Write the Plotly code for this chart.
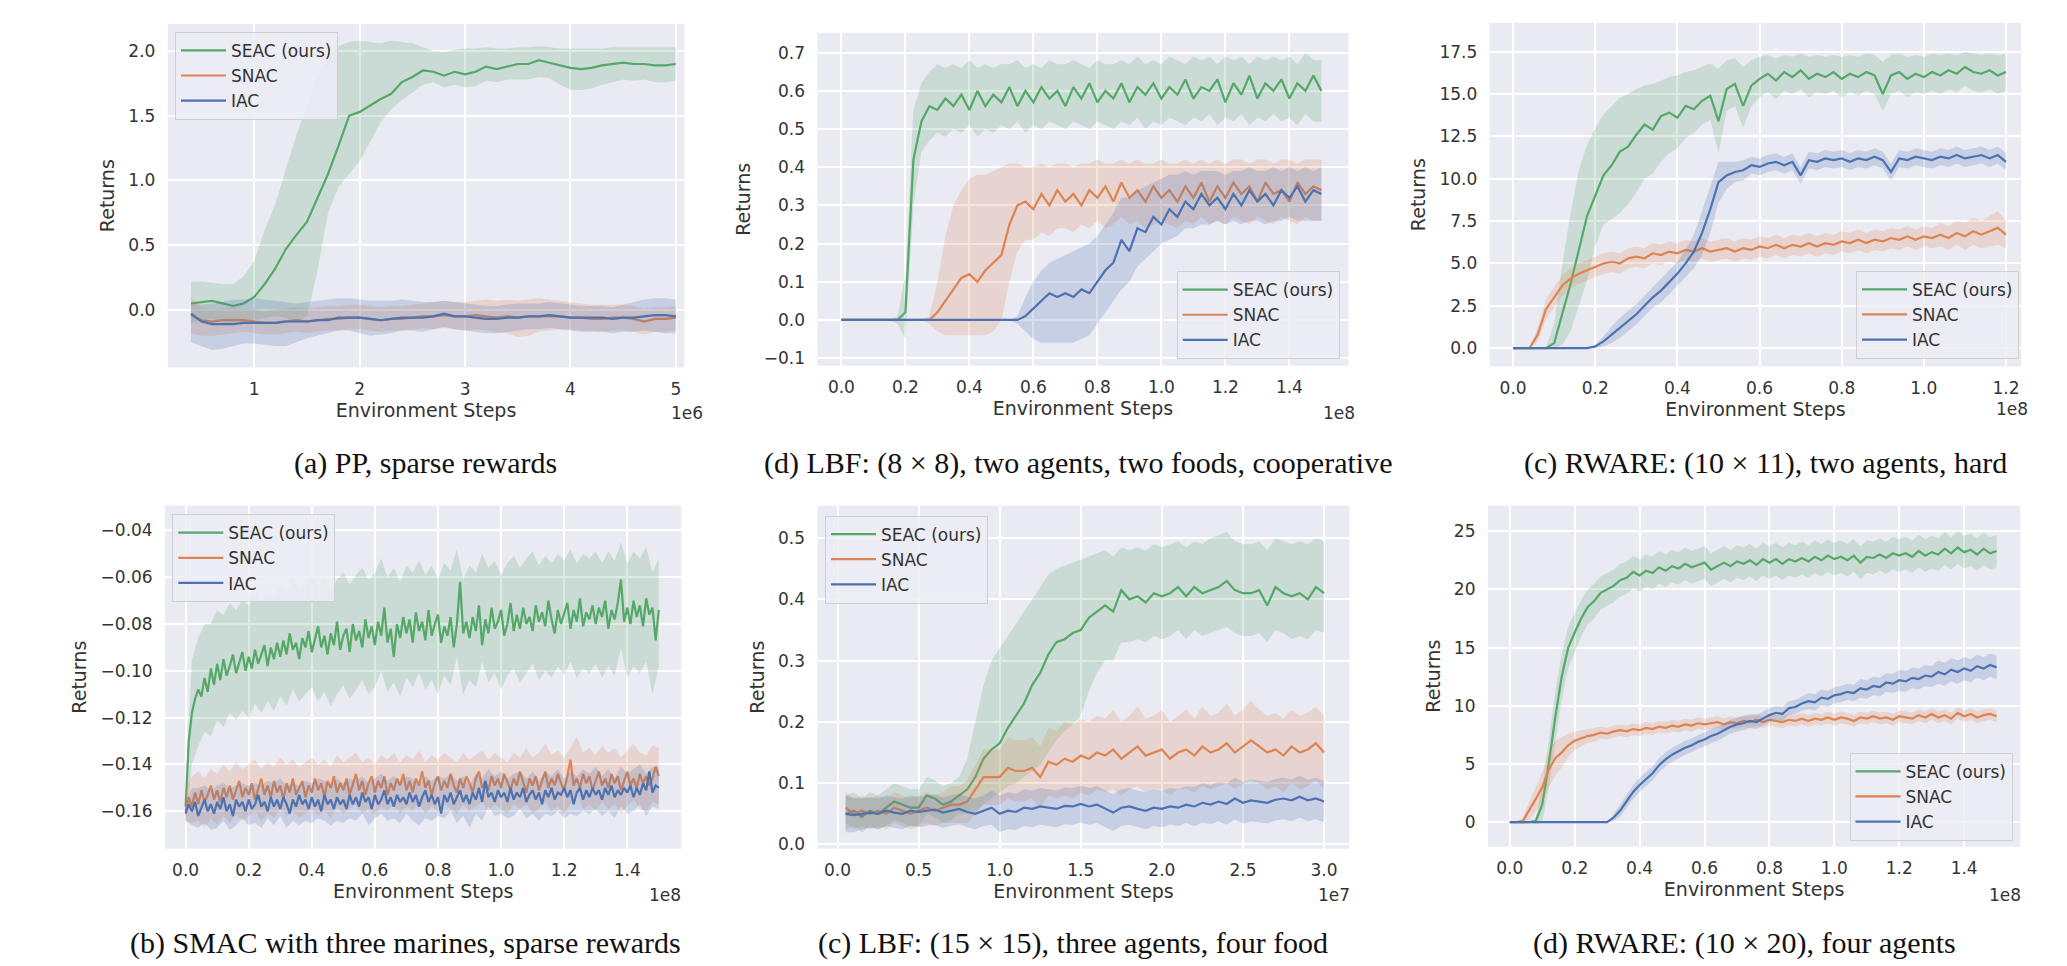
import plotly.graph_objects as go

W, H = 2067, 966
GREEN, ORANGE, BLUE = "#55a868", "#dd8452", "#4c72b0"
FILLS = {GREEN: "rgba(85,168,104,0.22)", ORANGE: "rgba(221,132,82,0.22)", BLUE: "rgba(76,114,176,0.22)"}
NAMES = ["SEAC (ours)", "SNAC", "IAC"]

# ---------------- (a) PP, sparse rewards  (x in 1e6) ----------------
XA = [0.4,0.5,0.6,0.7,0.8,0.9,1.0,1.1,1.2,1.3,
      1.4,1.5,1.6,1.7,1.8,1.9,2.0,2.1,2.2,2.3,
      2.4,2.5,2.6,2.7,2.8,2.9,3.0,3.1,3.2,3.3,
      3.4,3.5,3.6,3.7,3.8,3.9,4.0,4.1,4.2,4.3,
      4.4,4.5,4.6,4.7,4.8,4.9,5.0]
SEAC_A = [0.05,0.06,0.07,0.05,0.03,0.05,0.10,0.20,0.32,0.47,
          0.58,0.68,0.86,1.05,1.27,1.50,1.53,1.58,1.63,1.67,
          1.76,1.80,1.85,1.84,1.81,1.84,1.82,1.84,1.88,1.86,
          1.88,1.90,1.90,1.93,1.91,1.89,1.87,1.86,1.87,1.89,
          1.90,1.91,1.90,1.90,1.89,1.89,1.90]
SEAC_A_HI = [0.22,0.22,0.21,0.20,0.20,0.26,0.38,0.62,0.82,1.08,
             1.35,1.58,1.80,1.95,2.04,2.07,2.08,2.07,2.06,2.08,
             2.07,2.06,2.03,2.00,1.99,2.01,2.02,2.02,2.03,2.02,
             2.02,2.03,2.03,2.04,2.03,2.02,2.02,2.02,2.02,2.02,
             2.03,2.03,2.03,2.03,2.03,2.03,2.03]
SEAC_A_LO = [-0.10,-0.08,-0.07,-0.10,-0.12,-0.10,-0.08,-0.06,-0.05,-0.06,
             -0.10,-0.05,0.30,0.75,0.95,1.05,1.15,1.30,1.45,1.55,
             1.62,1.68,1.74,1.76,1.72,1.74,1.72,1.73,1.77,1.76,
             1.78,1.78,1.78,1.80,1.79,1.74,1.70,1.70,1.71,1.74,
             1.76,1.78,1.77,1.78,1.76,1.76,1.77]
SNAC_A = [-0.04,-0.08,-0.09,-0.08,-0.08,-0.08,-0.09,-0.10,-0.10,-0.09,
          -0.08,-0.09,-0.08,-0.07,-0.07,-0.06,-0.06,-0.07,-0.08,-0.07,
          -0.07,-0.06,-0.05,-0.05,-0.04,-0.05,-0.05,-0.04,-0.05,-0.06,
          -0.05,-0.06,-0.05,-0.05,-0.05,-0.05,-0.06,-0.06,-0.07,-0.07,
          -0.06,-0.06,-0.07,-0.09,-0.07,-0.07,-0.06]
SNAC_A_HI = [0.10,0.02,0.00,0.01,0.02,0.01,0.00,-0.01,0.00,0.01,
             0.02,0.01,0.02,0.03,0.03,0.04,0.04,0.03,0.02,0.03,
             0.03,0.04,0.05,0.06,0.07,0.06,0.06,0.07,0.08,0.07,
             0.08,0.07,0.08,0.09,0.08,0.07,0.06,0.05,0.04,0.04,
             0.04,0.04,0.03,0.01,0.02,0.02,0.03]
SNAC_A_LO = [-0.18,-0.20,-0.20,-0.19,-0.18,-0.17,-0.18,-0.19,-0.19,-0.18,
             -0.17,-0.18,-0.17,-0.16,-0.16,-0.15,-0.15,-0.16,-0.17,-0.16,
             -0.16,-0.15,-0.14,-0.15,-0.14,-0.15,-0.16,-0.15,-0.16,-0.17,
             -0.18,-0.21,-0.20,-0.17,-0.16,-0.15,-0.15,-0.16,-0.16,-0.17,
             -0.16,-0.16,-0.17,-0.19,-0.17,-0.17,-0.16]
IAC_A = [-0.03,-0.09,-0.11,-0.11,-0.11,-0.10,-0.10,-0.10,-0.10,-0.09,
         -0.09,-0.09,-0.08,-0.08,-0.06,-0.06,-0.06,-0.07,-0.08,-0.07,
         -0.06,-0.06,-0.06,-0.05,-0.03,-0.05,-0.05,-0.06,-0.07,-0.07,
         -0.06,-0.06,-0.05,-0.05,-0.04,-0.05,-0.06,-0.06,-0.06,-0.06,
         -0.07,-0.06,-0.06,-0.05,-0.04,-0.04,-0.05]
IAC_A_HI = [0.05,0.04,0.05,0.06,0.08,0.08,0.09,0.08,0.07,0.06,
            0.05,0.06,0.07,0.08,0.09,0.09,0.08,0.07,0.07,0.07,
            0.08,0.07,0.06,0.06,0.07,0.06,0.05,0.04,0.03,0.03,
            0.04,0.05,0.05,0.05,0.06,0.05,0.04,0.03,0.03,0.03,
            0.02,0.04,0.06,0.08,0.09,0.09,0.08]
IAC_A_LO = [-0.25,-0.28,-0.31,-0.30,-0.28,-0.26,-0.26,-0.27,-0.28,-0.28,
            -0.25,-0.22,-0.20,-0.18,-0.16,-0.16,-0.18,-0.20,-0.19,-0.18,
            -0.16,-0.16,-0.17,-0.15,-0.13,-0.15,-0.16,-0.17,-0.18,-0.18,
            -0.17,-0.16,-0.15,-0.15,-0.14,-0.15,-0.16,-0.17,-0.17,-0.17,
            -0.18,-0.17,-0.17,-0.16,-0.17,-0.18,-0.18]

# ---------------- (d) LBF 8x8  (x in 1e8) ----------------
XD1 = [0.000,0.025,0.050,0.075,0.100,0.125,0.150,0.175,0.200,0.225,
       0.250,0.275,0.300,0.325,0.350,0.375,0.400,0.425,0.450,0.475,
       0.500,0.525,0.550,0.575,0.600,0.625,0.650,0.675,0.700,0.725,
       0.750,0.775,0.800,0.825,0.850,0.875,0.900,0.925,0.950,0.975,
       1.000,1.025,1.050,1.075,1.100,1.125,1.150,1.175,1.200,1.225,
       1.250,1.275,1.300,1.325,1.350,1.375,1.400,1.425,1.450,1.475,
       1.500]
SEAC_D1 = [0.00,0.00,0.00,0.00,0.00,0.00,0.00,0.00,0.02,0.42,
           0.52,0.56,0.55,0.58,0.56,0.59,0.55,0.60,0.56,0.59,
           0.57,0.61,0.56,0.60,0.57,0.61,0.58,0.60,0.56,0.61,
           0.58,0.62,0.57,0.60,0.58,0.62,0.57,0.61,0.59,0.62,
           0.58,0.61,0.59,0.63,0.58,0.61,0.60,0.63,0.57,0.62,
           0.59,0.64,0.58,0.62,0.60,0.63,0.58,0.62,0.60,0.64,
           0.60]
SEAC_D1_HI = [0.00,0.00,0.00,0.00,0.00,0.00,0.00,0.01,0.12,0.55,
              0.62,0.65,0.67,0.66,0.67,0.66,0.68,0.66,0.67,0.66,
              0.67,0.67,0.68,0.66,0.67,0.66,0.68,0.67,0.67,0.68,
              0.67,0.66,0.68,0.67,0.67,0.68,0.67,0.69,0.67,0.68,
              0.67,0.69,0.68,0.67,0.69,0.68,0.69,0.67,0.69,0.68,
              0.69,0.67,0.69,0.68,0.69,0.68,0.69,0.67,0.70,0.68,
              0.68]
SEAC_D1_LO = [0.00,0.00,0.00,0.00,0.00,0.00,0.00,-0.01,-0.05,0.30,
              0.44,0.47,0.49,0.48,0.50,0.49,0.51,0.48,0.50,0.49,
              0.51,0.50,0.52,0.49,0.51,0.50,0.52,0.51,0.50,0.52,
              0.51,0.50,0.52,0.51,0.50,0.52,0.51,0.53,0.50,0.52,
              0.51,0.53,0.52,0.51,0.53,0.52,0.54,0.51,0.53,0.52,
              0.54,0.51,0.53,0.52,0.54,0.52,0.53,0.51,0.54,0.52,
              0.52]
SNAC_D1 = [0.00,0.00,0.00,0.00,0.00,0.00,0.00,0.00,0.00,0.00,
           0.00,0.00,0.02,0.05,0.08,0.11,0.12,0.10,0.13,0.15,
           0.17,0.25,0.30,0.31,0.29,0.33,0.30,0.34,0.31,0.33,
           0.30,0.34,0.32,0.35,0.31,0.36,0.32,0.34,0.31,0.35,
           0.32,0.34,0.31,0.35,0.32,0.36,0.31,0.35,0.32,0.36,
           0.33,0.35,0.31,0.36,0.33,0.34,0.31,0.36,0.33,0.35,
           0.34]
SNAC_D1_HI = [0.00,0.00,0.00,0.00,0.00,0.00,0.00,0.00,0.00,0.00,
              0.00,0.01,0.10,0.22,0.30,0.34,0.37,0.38,0.38,0.39,
              0.40,0.41,0.41,0.40,0.40,0.41,0.40,0.41,0.41,0.40,
              0.41,0.41,0.42,0.41,0.41,0.42,0.41,0.42,0.41,0.41,
              0.42,0.41,0.41,0.42,0.41,0.42,0.41,0.42,0.41,0.42,
              0.42,0.41,0.42,0.42,0.41,0.42,0.42,0.41,0.42,0.42,
              0.42]
SNAC_D1_LO = [0.00,0.00,0.00,0.00,0.00,0.00,0.00,0.00,0.00,0.00,
              0.00,-0.01,-0.03,-0.04,-0.04,-0.04,-0.04,-0.04,-0.04,-0.03,
              0.00,0.10,0.18,0.21,0.21,0.23,0.22,0.24,0.24,0.23,
              0.25,0.24,0.26,0.24,0.25,0.27,0.25,0.26,0.24,0.25,
              0.26,0.25,0.24,0.26,0.25,0.27,0.25,0.26,0.25,0.27,
              0.26,0.25,0.27,0.26,0.25,0.27,0.26,0.25,0.27,0.26,
              0.26]
IAC_D1 = [0.00,0.00,0.00,0.00,0.00,0.00,0.00,0.00,0.00,0.00,
          0.00,0.00,0.00,0.00,0.00,0.00,0.00,0.00,0.00,0.00,
          0.00,0.00,0.00,0.01,0.03,0.05,0.07,0.06,0.07,0.06,
          0.08,0.07,0.10,0.13,0.15,0.21,0.18,0.24,0.23,0.27,
          0.25,0.29,0.27,0.31,0.29,0.33,0.30,0.32,0.29,0.33,
          0.30,0.34,0.31,0.33,0.30,0.34,0.32,0.35,0.31,0.34,
          0.33]
IAC_D1_HI = [0.00,0.00,0.00,0.00,0.00,0.00,0.00,0.00,0.00,0.00,
             0.00,0.00,0.00,0.00,0.00,0.00,0.00,0.00,0.00,0.00,
             0.00,0.00,0.01,0.06,0.10,0.13,0.15,0.16,0.17,0.18,
             0.19,0.20,0.22,0.25,0.28,0.32,0.32,0.34,0.35,0.36,
             0.37,0.38,0.38,0.39,0.38,0.39,0.39,0.39,0.38,0.39,
             0.39,0.40,0.39,0.39,0.40,0.39,0.40,0.39,0.40,0.39,
             0.40]
IAC_D1_LO = [0.00,0.00,0.00,0.00,0.00,0.00,0.00,0.00,0.00,0.00,
             0.00,0.00,0.00,0.00,0.00,0.00,0.00,0.00,0.00,0.00,
             0.00,0.00,-0.01,-0.03,-0.05,-0.06,-0.06,-0.06,-0.06,-0.06,
             -0.05,-0.04,-0.01,0.02,0.05,0.08,0.10,0.14,0.16,0.18,
             0.20,0.21,0.22,0.24,0.24,0.25,0.25,0.26,0.25,0.26,
             0.25,0.26,0.26,0.25,0.26,0.26,0.27,0.26,0.26,0.26,
             0.26]

# ---------------- (c) RWARE 10x11, hard  (x in 1e8) ----------------
XC1 = [0.00,0.02,0.04,0.06,0.08,0.10,0.12,0.14,0.16,0.18,
       0.20,0.22,0.24,0.26,0.28,0.30,0.32,0.34,0.36,0.38,
       0.40,0.42,0.44,0.46,0.48,0.50,0.52,0.54,0.56,0.58,
       0.60,0.62,0.64,0.66,0.68,0.70,0.72,0.74,0.76,0.78,
       0.80,0.82,0.84,0.86,0.88,0.90,0.92,0.94,0.96,0.98,
       1.00,1.02,1.04,1.06,1.08,1.10,1.12,1.14,1.16,1.18,
       1.20]
SEAC_C1 = [0.0,0.0,0.0,0.0,0.0,0.3,2.0,3.8,5.8,7.8,
           9.0,10.2,10.8,11.6,11.9,12.6,13.2,12.9,13.7,13.9,
           13.6,14.3,14.1,14.6,14.9,13.4,15.3,15.6,14.3,15.5,
           15.9,16.2,15.8,16.3,16.0,16.4,15.9,16.2,16.0,16.3,
           15.9,16.2,16.0,16.3,16.1,15.0,16.1,16.3,15.9,16.2,
           16.0,16.3,16.1,16.4,16.2,16.6,16.3,16.2,16.4,16.1,
           16.3]
SEAC_C1_HI = [0.0,0.0,0.0,0.0,0.0,1.5,5.0,8.0,10.5,12.0,
              13.0,13.8,14.3,14.8,15.0,15.3,15.5,15.6,15.8,16.0,
              16.1,16.3,16.4,16.6,16.8,16.5,17.0,17.1,16.6,17.0,
              17.2,17.3,17.1,17.3,17.2,17.4,17.2,17.3,17.2,17.3,
              17.2,17.3,17.2,17.4,17.3,16.9,17.3,17.4,17.2,17.3,
              17.2,17.4,17.3,17.4,17.3,17.5,17.4,17.3,17.4,17.3,
              17.4]
SEAC_C1_LO = [0.0,0.0,0.0,0.0,0.0,0.0,0.2,1.0,2.5,4.0,
              6.0,7.3,7.6,8.0,8.5,9.2,10.0,10.3,11.0,11.5,
              11.8,12.4,12.7,13.2,13.5,11.5,14.0,14.3,13.0,14.3,
              14.8,15.1,14.7,15.2,15.0,15.3,14.8,15.1,15.0,15.2,
              14.8,15.1,14.9,15.2,15.0,14.0,15.0,15.2,14.8,15.1,
              15.0,15.2,15.0,15.3,15.1,15.5,15.2,15.1,15.3,15.0,
              15.2]
SNAC_C1 = [0.0,0.0,0.0,0.8,2.3,3.0,3.7,4.1,4.4,4.6,
           4.8,5.0,5.1,5.0,5.3,5.4,5.3,5.6,5.5,5.7,
           5.6,5.8,5.7,5.9,5.7,5.8,5.9,5.7,5.9,5.8,
           6.0,5.9,6.1,5.9,6.1,6.0,6.2,6.0,6.2,6.1,
           6.3,6.2,6.4,6.2,6.4,6.3,6.5,6.4,6.6,6.4,
           6.6,6.5,6.7,6.5,6.8,6.6,6.9,6.7,6.9,7.1,
           6.7]
SNAC_C1_SD = [0.00,0.00,0.00,0.40,0.60,0.60,0.60,0.60,0.60,0.60,
              0.60,0.60,0.60,0.60,0.60,0.60,0.60,0.60,0.60,0.60,
              0.60,0.60,0.60,0.60,0.60,0.60,0.60,0.60,0.60,0.60,
              0.60,0.60,0.60,0.60,0.60,0.60,0.60,0.60,0.60,0.60,
              0.60,0.60,0.60,0.60,0.60,0.60,0.60,0.60,0.60,0.60,
              0.60,0.60,0.70,0.70,0.70,0.80,0.80,0.80,0.90,1.00,
              0.80]
IAC_C1 = [0.0,0.0,0.0,0.0,0.0,0.0,0.0,0.0,0.0,0.0,
          0.1,0.4,0.8,1.2,1.6,2.0,2.5,3.0,3.4,3.9,
          4.4,5.0,5.7,6.8,8.2,9.8,10.2,10.4,10.5,10.8,
          10.7,10.9,11.0,10.8,11.0,10.2,11.1,11.0,11.2,11.1,
          11.2,11.0,11.2,11.1,11.3,11.1,10.4,11.2,11.1,11.3,
          11.2,11.1,11.3,11.2,11.4,11.2,11.3,11.4,11.2,11.4,
          11.0]
IAC_C1_SD = [0.00,0.00,0.00,0.00,0.00,0.00,0.00,0.00,0.00,0.00,
             0.10,0.30,0.50,0.60,0.60,0.60,0.60,0.60,0.70,0.70,
             0.70,0.80,1.00,1.30,1.40,1.20,0.80,0.60,0.60,0.50,
             0.50,0.50,0.50,0.50,0.50,0.50,0.50,0.50,0.50,0.50,
             0.50,0.50,0.50,0.50,0.50,0.50,0.50,0.50,0.50,0.50,
             0.50,0.50,0.50,0.50,0.50,0.50,0.50,0.50,0.50,0.50,
             0.50]

# ---------------- (b) SMAC three marines  (x in 1e8) ----------------
# band sample positions
XB = [0.00,0.02,0.04,0.06,0.08,0.10,0.12,0.14,0.16,0.18,
      0.20,0.22,0.24,0.26,0.28,0.30,0.32,0.34,0.36,0.38,
      0.40,0.42,0.44,0.46,0.48,0.50,0.52,0.54,0.56,0.58,
      0.60,0.62,0.64,0.66,0.68,0.70,0.72,0.74,0.76,0.78,
      0.80,0.82,0.84,0.86,0.88,0.90,0.92,0.94,0.96,0.98,
      1.00,1.02,1.04,1.06,1.08,1.10,1.12,1.14,1.16,1.18,
      1.20,1.22,1.24,1.26,1.28,1.30,1.32,1.34,1.36,1.38,
      1.40,1.42,1.44,1.46,1.48,1.50]
# mean-line sample positions (denser, the curves are very noisy)
XB_LINE = [0.00,0.01,0.02,0.03,0.04,0.05,0.06,0.07,0.08,0.09,
           0.10,0.11,0.12,0.13,0.14,0.15,0.16,0.17,0.18,0.19,
           0.20,0.21,0.22,0.23,0.24,0.25,0.26,0.27,0.28,0.29,
           0.30,0.31,0.32,0.33,0.34,0.35,0.36,0.37,0.38,0.39,
           0.40,0.41,0.42,0.43,0.44,0.45,0.46,0.47,0.48,0.49,
           0.50,0.51,0.52,0.53,0.54,0.55,0.56,0.57,0.58,0.59,
           0.60,0.61,0.62,0.63,0.64,0.65,0.66,0.67,0.68,0.69,
           0.70,0.71,0.72,0.73,0.74,0.75,0.76,0.77,0.78,0.79,
           0.80,0.81,0.82,0.83,0.84,0.85,0.86,0.87,0.88,0.89,
           0.90,0.91,0.92,0.93,0.94,0.95,0.96,0.97,0.98,0.99,
           1.00,1.01,1.02,1.03,1.04,1.05,1.06,1.07,1.08,1.09,
           1.10,1.11,1.12,1.13,1.14,1.15,1.16,1.17,1.18,1.19,
           1.20,1.21,1.22,1.23,1.24,1.25,1.26,1.27,1.28,1.29,
           1.30,1.31,1.32,1.33,1.34,1.35,1.36,1.37,1.38,1.39,
           1.40,1.41,1.42,1.43,1.44,1.45,1.46,1.47,1.48,1.49,
           1.50]
SEAC_B = [-0.158,-0.130,-0.118,-0.112,-0.108,-0.111,-0.103,-0.109,-0.099,-0.106,
          -0.097,-0.104,-0.095,-0.102,-0.098,-0.093,-0.101,-0.096,-0.092,-0.100,
          -0.094,-0.099,-0.091,-0.097,-0.093,-0.089,-0.098,-0.090,-0.095,-0.088,
          -0.094,-0.087,-0.093,-0.084,-0.091,-0.088,-0.095,-0.086,-0.090,-0.083,
          -0.092,-0.086,-0.081,-0.090,-0.085,-0.093,-0.084,-0.089,-0.079,-0.091,
          -0.085,-0.082,-0.092,-0.080,-0.087,-0.083,-0.090,-0.078,-0.086,-0.081,
          -0.089,-0.079,-0.085,-0.073,-0.088,-0.082,-0.094,-0.080,-0.086,-0.077,
          -0.084,-0.078,-0.088,-0.075,-0.083,-0.079,-0.087,-0.074,-0.085,-0.080,
          -0.076,-0.088,-0.081,-0.085,-0.077,-0.090,-0.080,-0.062,-0.084,-0.079,
          -0.086,-0.077,-0.083,-0.072,-0.089,-0.078,-0.084,-0.073,-0.082,-0.079,
          -0.074,-0.085,-0.080,-0.071,-0.083,-0.076,-0.082,-0.073,-0.080,-0.077,
          -0.083,-0.072,-0.079,-0.075,-0.081,-0.070,-0.078,-0.084,-0.074,-0.080,
          -0.076,-0.071,-0.082,-0.074,-0.079,-0.069,-0.081,-0.075,-0.078,-0.072,
          -0.080,-0.073,-0.077,-0.070,-0.082,-0.074,-0.078,-0.071,-0.061,-0.079,
          -0.073,-0.080,-0.070,-0.077,-0.072,-0.081,-0.069,-0.076,-0.073,-0.087,
          -0.074]
SEAC_B_HI = [-0.150,-0.095,-0.086,-0.080,-0.080,-0.074,-0.076,-0.071,-0.074,-0.070,
             -0.072,-0.067,-0.070,-0.066,-0.069,-0.064,-0.067,-0.061,-0.065,-0.062,
             -0.060,-0.064,-0.060,-0.066,-0.061,-0.058,-0.063,-0.059,-0.056,-0.061,
             -0.058,-0.052,-0.060,-0.056,-0.062,-0.055,-0.058,-0.053,-0.059,-0.055,
             -0.061,-0.054,-0.057,-0.048,-0.061,-0.055,-0.058,-0.050,-0.056,-0.053,
             -0.059,-0.054,-0.051,-0.056,-0.052,-0.049,-0.055,-0.051,-0.054,-0.050,
             -0.053,-0.048,-0.054,-0.050,-0.052,-0.049,-0.054,-0.049,-0.053,-0.045,
             -0.054,-0.049,-0.052,-0.047,-0.058,-0.052]
SEAC_B_LO = [-0.166,-0.140,-0.132,-0.126,-0.128,-0.121,-0.124,-0.118,-0.121,-0.117,
             -0.120,-0.114,-0.118,-0.113,-0.117,-0.111,-0.115,-0.108,-0.113,-0.110,
             -0.107,-0.113,-0.109,-0.115,-0.110,-0.106,-0.112,-0.108,-0.104,-0.110,
             -0.107,-0.100,-0.109,-0.105,-0.111,-0.103,-0.107,-0.101,-0.108,-0.104,
             -0.110,-0.102,-0.106,-0.094,-0.110,-0.104,-0.107,-0.096,-0.105,-0.101,
             -0.108,-0.102,-0.099,-0.105,-0.101,-0.097,-0.104,-0.100,-0.103,-0.098,
             -0.102,-0.096,-0.103,-0.099,-0.101,-0.097,-0.103,-0.098,-0.102,-0.090,
             -0.103,-0.098,-0.101,-0.096,-0.110,-0.098]
SNAC_B = [-0.160,-0.154,-0.158,-0.152,-0.157,-0.151,-0.156,-0.153,-0.149,-0.155,
          -0.151,-0.156,-0.150,-0.154,-0.149,-0.155,-0.151,-0.147,-0.154,-0.150,
          -0.153,-0.148,-0.155,-0.150,-0.146,-0.153,-0.149,-0.154,-0.147,-0.152,
          -0.149,-0.155,-0.148,-0.152,-0.146,-0.153,-0.150,-0.147,-0.154,-0.149,
          -0.152,-0.146,-0.151,-0.148,-0.154,-0.147,-0.150,-0.145,-0.152,-0.148,
          -0.151,-0.146,-0.153,-0.149,-0.144,-0.151,-0.147,-0.153,-0.148,-0.145,
          -0.152,-0.147,-0.150,-0.145,-0.153,-0.148,-0.151,-0.146,-0.149,-0.144,
          -0.151,-0.147,-0.152,-0.146,-0.149,-0.143,-0.150,-0.147,-0.153,-0.148,
          -0.145,-0.151,-0.147,-0.150,-0.144,-0.149,-0.152,-0.146,-0.150,-0.145,
          -0.148,-0.152,-0.146,-0.143,-0.150,-0.147,-0.151,-0.145,-0.149,-0.146,
          -0.150,-0.144,-0.148,-0.151,-0.146,-0.149,-0.143,-0.148,-0.152,-0.146,
          -0.149,-0.145,-0.151,-0.147,-0.143,-0.150,-0.146,-0.149,-0.144,-0.148,
          -0.151,-0.145,-0.138,-0.149,-0.146,-0.150,-0.144,-0.148,-0.145,-0.151,
          -0.147,-0.143,-0.149,-0.146,-0.150,-0.144,-0.148,-0.145,-0.151,-0.147,
          -0.143,-0.149,-0.146,-0.150,-0.144,-0.148,-0.145,-0.149,-0.146,-0.141,
          -0.145]
SNAC_B_HI = [-0.150,-0.145,-0.143,-0.146,-0.142,-0.144,-0.140,-0.143,-0.139,-0.142,
             -0.140,-0.138,-0.142,-0.139,-0.141,-0.137,-0.140,-0.138,-0.141,-0.139,
             -0.137,-0.140,-0.138,-0.141,-0.136,-0.139,-0.137,-0.135,-0.139,-0.137,
             -0.140,-0.136,-0.138,-0.135,-0.139,-0.136,-0.138,-0.134,-0.139,-0.136,
             -0.138,-0.135,-0.137,-0.139,-0.135,-0.138,-0.136,-0.134,-0.138,-0.135,
             -0.137,-0.139,-0.135,-0.137,-0.133,-0.137,-0.135,-0.131,-0.136,-0.134,
             -0.137,-0.133,-0.128,-0.135,-0.133,-0.136,-0.132,-0.135,-0.133,-0.137,
             -0.134,-0.131,-0.135,-0.136,-0.132,-0.133]
SNAC_B_LO = [-0.164,-0.165,-0.164,-0.167,-0.163,-0.166,-0.162,-0.165,-0.161,-0.164,
             -0.162,-0.160,-0.164,-0.161,-0.163,-0.159,-0.162,-0.160,-0.163,-0.161,
             -0.159,-0.162,-0.160,-0.163,-0.158,-0.161,-0.159,-0.157,-0.161,-0.159,
             -0.162,-0.158,-0.160,-0.157,-0.161,-0.158,-0.160,-0.156,-0.161,-0.158,
             -0.160,-0.157,-0.159,-0.161,-0.157,-0.160,-0.158,-0.156,-0.160,-0.157,
             -0.159,-0.161,-0.157,-0.159,-0.157,-0.161,-0.159,-0.156,-0.160,-0.158,
             -0.161,-0.157,-0.151,-0.159,-0.157,-0.160,-0.156,-0.159,-0.157,-0.161,
             -0.158,-0.155,-0.159,-0.160,-0.156,-0.157]
IAC_B = [-0.161,-0.157,-0.160,-0.156,-0.162,-0.158,-0.155,-0.160,-0.157,-0.161,
         -0.156,-0.159,-0.154,-0.160,-0.157,-0.162,-0.155,-0.158,-0.156,-0.160,
         -0.155,-0.159,-0.157,-0.153,-0.158,-0.156,-0.160,-0.154,-0.158,-0.155,
         -0.159,-0.154,-0.157,-0.161,-0.155,-0.158,-0.153,-0.157,-0.155,-0.159,
         -0.154,-0.158,-0.155,-0.160,-0.153,-0.157,-0.155,-0.159,-0.154,-0.157,
         -0.155,-0.159,-0.153,-0.157,-0.154,-0.158,-0.152,-0.156,-0.154,-0.159,
         -0.153,-0.157,-0.155,-0.151,-0.157,-0.154,-0.158,-0.153,-0.156,-0.154,
         -0.157,-0.152,-0.156,-0.153,-0.158,-0.154,-0.151,-0.156,-0.153,-0.157,
         -0.154,-0.161,-0.153,-0.156,-0.152,-0.157,-0.154,-0.151,-0.156,-0.153,
         -0.157,-0.152,-0.155,-0.150,-0.156,-0.147,-0.154,-0.152,-0.156,-0.151,
         -0.154,-0.152,-0.156,-0.150,-0.155,-0.152,-0.154,-0.150,-0.156,-0.153,
         -0.151,-0.155,-0.152,-0.157,-0.151,-0.154,-0.150,-0.155,-0.152,-0.153,
         -0.150,-0.154,-0.151,-0.157,-0.152,-0.150,-0.155,-0.151,-0.154,-0.150,
         -0.153,-0.151,-0.155,-0.150,-0.153,-0.149,-0.154,-0.151,-0.153,-0.150,
         -0.152,-0.149,-0.154,-0.150,-0.153,-0.148,-0.151,-0.143,-0.152,-0.149,
         -0.150]
IAC_B_HI = [-0.156,-0.150,-0.150,-0.149,-0.151,-0.149,-0.148,-0.150,-0.149,-0.148,
            -0.149,-0.148,-0.149,-0.147,-0.148,-0.146,-0.149,-0.148,-0.149,-0.147,
            -0.148,-0.146,-0.147,-0.149,-0.146,-0.148,-0.146,-0.147,-0.145,-0.148,
            -0.146,-0.144,-0.147,-0.145,-0.148,-0.145,-0.146,-0.149,-0.145,-0.147,
            -0.145,-0.146,-0.144,-0.147,-0.145,-0.149,-0.144,-0.146,-0.142,-0.145,
            -0.143,-0.146,-0.144,-0.143,-0.146,-0.143,-0.147,-0.143,-0.145,-0.142,
            -0.146,-0.143,-0.145,-0.142,-0.144,-0.141,-0.145,-0.142,-0.146,-0.141,
            -0.144,-0.142,-0.140,-0.144,-0.141,-0.141]
IAC_B_LO = [-0.164,-0.166,-0.167,-0.165,-0.168,-0.167,-0.164,-0.168,-0.166,-0.163,
            -0.166,-0.165,-0.167,-0.163,-0.166,-0.162,-0.167,-0.164,-0.166,-0.164,
            -0.165,-0.163,-0.164,-0.166,-0.164,-0.165,-0.163,-0.164,-0.161,-0.166,
            -0.163,-0.161,-0.164,-0.163,-0.165,-0.161,-0.164,-0.166,-0.163,-0.164,
            -0.162,-0.163,-0.160,-0.165,-0.162,-0.167,-0.161,-0.164,-0.158,-0.162,
            -0.161,-0.163,-0.162,-0.159,-0.163,-0.161,-0.164,-0.161,-0.162,-0.160,
            -0.163,-0.161,-0.162,-0.160,-0.161,-0.159,-0.162,-0.160,-0.163,-0.158,
            -0.161,-0.160,-0.157,-0.162,-0.158,-0.159]

# ---------------- (c) LBF 15x15  (x in 1e7) ----------------
XC2 = [0.05,0.10,0.15,0.20,0.25,0.30,0.35,0.40,0.45,0.50,
       0.55,0.60,0.65,0.70,0.75,0.80,0.85,0.90,0.95,1.00,
       1.05,1.10,1.15,1.20,1.25,1.30,1.35,1.40,1.45,1.50,
       1.55,1.60,1.65,1.70,1.75,1.80,1.85,1.90,1.95,2.00,
       2.05,2.10,2.15,2.20,2.25,2.30,2.35,2.40,2.45,2.50,
       2.55,2.60,2.65,2.70,2.75,2.80,2.85,2.90,2.95,3.00]
SEAC_C2 = [0.050,0.055,0.045,0.055,0.050,0.060,0.070,0.065,0.060,0.060,
           0.080,0.075,0.065,0.070,0.080,0.090,0.110,0.140,0.155,0.165,
           0.190,0.210,0.230,0.260,0.280,0.310,0.330,0.335,0.345,0.350,
           0.370,0.380,0.390,0.380,0.415,0.400,0.405,0.395,0.410,0.405,
           0.410,0.420,0.405,0.420,0.410,0.415,0.420,0.430,0.415,0.410,
           0.410,0.415,0.390,0.420,0.410,0.405,0.410,0.400,0.420,0.410]
SEAC_C2_HI = [0.080,0.085,0.075,0.085,0.080,0.090,0.100,0.095,0.090,0.090,
              0.110,0.105,0.095,0.100,0.110,0.140,0.200,0.260,0.300,0.320,
              0.340,0.360,0.380,0.400,0.420,0.440,0.450,0.455,0.460,0.465,
              0.470,0.475,0.480,0.470,0.485,0.480,0.485,0.480,0.490,0.485,
              0.490,0.495,0.485,0.495,0.490,0.500,0.505,0.510,0.495,0.490,
              0.490,0.495,0.480,0.500,0.495,0.490,0.495,0.490,0.500,0.495]
SEAC_C2_LO = [0.025,0.030,0.020,0.030,0.025,0.030,0.040,0.035,0.030,0.030,
              0.050,0.045,0.035,0.040,0.050,0.050,0.055,0.065,0.075,0.085,
              0.095,0.100,0.110,0.120,0.130,0.150,0.170,0.185,0.195,0.210,
              0.250,0.280,0.300,0.300,0.330,0.330,0.335,0.330,0.340,0.335,
              0.340,0.350,0.335,0.350,0.340,0.345,0.350,0.355,0.345,0.340,
              0.340,0.345,0.330,0.350,0.345,0.335,0.340,0.335,0.350,0.345]
SNAC_C2 = [0.060,0.050,0.055,0.050,0.055,0.050,0.060,0.055,0.050,0.055,
           0.060,0.055,0.060,0.065,0.065,0.070,0.090,0.110,0.110,0.110,
           0.125,0.120,0.120,0.125,0.110,0.135,0.130,0.140,0.135,0.145,
           0.140,0.150,0.145,0.155,0.140,0.150,0.160,0.145,0.150,0.155,
           0.140,0.150,0.155,0.145,0.160,0.150,0.155,0.165,0.150,0.160,
           0.170,0.160,0.150,0.155,0.145,0.160,0.150,0.155,0.165,0.150]
SNAC_C2_SD = [0.025,0.025,0.025,0.025,0.025,0.025,0.025,0.025,0.025,0.025,
              0.025,0.025,0.025,0.030,0.030,0.035,0.040,0.045,0.045,0.045,
              0.050,0.050,0.050,0.050,0.050,0.055,0.055,0.060,0.060,0.060,
              0.060,0.060,0.060,0.065,0.060,0.060,0.065,0.060,0.060,0.065,
              0.060,0.060,0.065,0.060,0.065,0.060,0.060,0.065,0.060,0.060,
              0.065,0.060,0.060,0.060,0.060,0.060,0.060,0.060,0.060,0.060]
IAC_C2 = [0.050,0.048,0.050,0.052,0.050,0.055,0.052,0.050,0.055,0.053,
          0.055,0.057,0.052,0.055,0.058,0.053,0.050,0.055,0.060,0.050,
          0.055,0.053,0.060,0.058,0.062,0.060,0.058,0.063,0.062,0.066,
          0.062,0.065,0.058,0.052,0.060,0.062,0.058,0.055,0.060,0.058,
          0.062,0.060,0.065,0.062,0.068,0.065,0.070,0.066,0.075,0.068,
          0.072,0.070,0.068,0.073,0.075,0.072,0.078,0.072,0.075,0.070]
IAC_C2_SD = [0.030,0.028,0.025,0.025,0.025,0.025,0.025,0.025,0.025,0.025,
             0.025,0.025,0.025,0.025,0.025,0.025,0.025,0.025,0.028,0.030,
             0.030,0.030,0.030,0.030,0.030,0.030,0.030,0.030,0.030,0.030,
             0.030,0.030,0.030,0.030,0.030,0.030,0.030,0.030,0.030,0.030,
             0.030,0.030,0.030,0.032,0.032,0.032,0.032,0.034,0.034,0.034,
             0.034,0.034,0.034,0.034,0.034,0.034,0.034,0.034,0.034,0.034]

# ---------------- (d) RWARE 10x20, four agents  (x in 1e8) ----------------
XD2 = XB
SEAC_D2 = [0.0,0.0,0.0,0.0,0.1,1.5,5.0,9.0,12.5,15.0,
           16.3,17.5,18.5,19.0,19.7,20.0,20.3,20.8,21.0,21.5,
           21.2,21.6,21.4,21.9,21.6,22.0,21.8,22.2,21.9,22.1,
           22.3,21.7,22.0,22.3,22.0,22.4,22.2,22.5,22.1,22.6,
           22.3,22.6,22.2,22.6,22.4,22.7,22.4,22.8,22.5,22.9,
           22.6,22.8,22.5,22.9,22.3,22.8,22.7,23.0,22.7,23.1,
           22.9,23.1,22.8,23.3,22.9,23.2,23.0,23.5,23.1,23.6,
           23.2,23.4,23.0,23.5,23.1,23.3]
SEAC_D2_SD = [0.0,0.0,0.0,0.0,0.3,1.5,2.0,2.2,2.0,1.8,
              1.7,1.6,1.5,1.5,1.4,1.4,1.4,1.4,1.4,1.4,
              1.4,1.4,1.4,1.4,1.4,1.4,1.4,1.4,1.4,1.4,
              1.4,1.4,1.4,1.4,1.4,1.4,1.4,1.4,1.4,1.4,
              1.4,1.4,1.4,1.4,1.4,1.4,1.4,1.4,1.4,1.4,
              1.4,1.4,1.4,1.4,1.4,1.4,1.4,1.4,1.4,1.4,
              1.4,1.4,1.4,1.4,1.4,1.4,1.4,1.4,1.4,1.4,
              1.4,1.4,1.4,1.4,1.4,1.4]
SNAC_D2 = [0.0,0.0,0.1,1.0,2.0,3.0,4.5,5.5,6.0,6.6,
           7.0,7.2,7.4,7.5,7.7,7.6,7.8,7.9,7.8,8.0,
           7.9,8.1,8.0,8.2,8.1,8.3,8.2,8.4,8.3,8.5,
           8.4,8.5,8.6,8.4,8.6,8.5,8.7,8.6,8.8,8.6,
           8.8,8.7,8.6,8.8,8.7,8.9,8.7,8.9,8.8,9.0,
           8.8,9.0,8.9,8.7,9.0,8.9,9.1,8.9,9.0,8.8,
           9.1,9.0,8.9,9.2,9.0,9.3,9.0,9.2,8.9,9.4,
           9.1,9.3,9.0,9.2,9.3,9.1]
SNAC_D2_SD = [0.0,0.0,0.3,0.8,1.0,1.3,1.5,1.5,1.3,1.0,
              0.8,0.7,0.6,0.6,0.5,0.5,0.5,0.5,0.5,0.5,
              0.5,0.5,0.5,0.5,0.5,0.5,0.5,0.5,0.5,0.5,
              0.5,0.5,0.5,0.5,0.5,0.5,0.5,0.5,0.5,0.5,
              0.5,0.5,0.5,0.5,0.5,0.5,0.5,0.5,0.5,0.5,
              0.5,0.5,0.5,0.5,0.5,0.5,0.5,0.5,0.5,0.5,
              0.5,0.5,0.5,0.5,0.5,0.5,0.5,0.5,0.5,0.5,
              0.5,0.5,0.5,0.5,0.5,0.5]
IAC_D2 = [0.0,0.0,0.0,0.0,0.0,0.0,0.0,0.0,0.0,0.0,
          0.0,0.0,0.0,0.0,0.0,0.0,0.4,1.0,1.8,2.6,
          3.2,3.7,4.2,4.9,5.4,5.8,6.1,6.4,6.6,6.9,
          7.1,7.4,7.6,7.9,8.2,8.4,8.5,8.7,8.6,8.9,
          9.2,9.4,9.3,9.8,9.9,10.2,10.4,10.3,10.7,10.6,
          10.9,11.0,11.2,11.1,11.5,11.4,11.7,11.6,12.0,11.9,
          12.2,12.1,12.4,12.3,12.6,12.5,12.9,12.7,13.1,12.9,
          13.2,13.0,13.4,13.2,13.5,13.3]
IAC_D2_SD = [0.0,0.0,0.0,0.0,0.0,0.0,0.0,0.0,0.0,0.0,
             0.0,0.0,0.0,0.0,0.0,0.0,0.3,0.5,0.6,0.6,
             0.6,0.6,0.6,0.6,0.6,0.6,0.6,0.6,0.6,0.6,
             0.6,0.6,0.6,0.6,0.6,0.6,0.6,0.6,0.6,0.6,
             0.6,0.6,0.6,0.6,0.6,0.6,0.7,0.7,0.7,0.7,
             0.7,0.7,0.7,0.7,0.8,0.8,0.8,0.8,0.8,0.8,
             0.9,0.9,0.9,0.9,0.9,0.9,1.0,1.0,1.0,1.0,
             1.0,1.0,1.0,1.0,1.0,1.0]


def sd_band(mean, sd):
    return [m + s for m, s in zip(mean, sd)], [m - s for m, s in zip(mean, sd)]


# each series: (line x, mean, band x, band hi, band lo)
def ser(x, mean, hi, lo, xl=None):
    return (x if xl is None else xl, mean, x, hi, lo)


PANELS = [
    dict(series=[ser(XA, SEAC_A, SEAC_A_HI, SEAC_A_LO), ser(XA, SNAC_A, SNAC_A_HI, SNAC_A_LO),
                 ser(XA, IAC_A, IAC_A_HI, IAC_A_LO)],
         box=(159.8, 16, 676.3, 361.7), xr=[0.18, 5.08], yr=[-0.445, 2.21], xd=1, xf="d", yd=0.5, yf=".1f",
         mult="1e6", mult_xy=(679, 408), cap="(a) PP, sparse rewards", cap_xy=(417, 458),
         leg=(167, 24, "left", "top")),
    dict(series=[ser(XD1, SEAC_D1, SEAC_D1_HI, SEAC_D1_LO), ser(XD1, SNAC_D1, SNAC_D1_HI, SNAC_D1_LO),
                 ser(XD1, IAC_D1, IAC_D1_HI, IAC_D1_LO)],
         box=(809.4, 25, 1340.6, 360), xr=[-0.075, 1.585], yr=[-0.12, 0.752], xd=0.2, xf=".1f", yd=0.1, yf=".1f",
         mult="1e8", mult_xy=(1331, 408), cap="(d) LBF: (8 × 8), two agents, two foods, cooperative", cap_xy=(1070, 458),
         leg=(1331.7, 353.3, "right", "bottom")),
    dict(series=[ser(XC1, SEAC_C1, SEAC_C1_HI, SEAC_C1_LO), ser(XC1, SNAC_C1, *sd_band(SNAC_C1, SNAC_C1_SD)),
                 ser(XC1, IAC_C1, *sd_band(IAC_C1, IAC_C1_SD))],
         box=(1481.7, 15, 2013.2, 360.7), xr=[-0.057, 1.237], yr=[-1.08, 19.2], xd=0.2, xf=".1f", yd=2.5, yf=".1f",
         mult="1e8", mult_xy=(2004, 404), cap="(c) RWARE: (10 × 11), two agents, hard", cap_xy=(1757, 458),
         leg=(2011, 353, "right", "bottom")),
    dict(series=[ser(XB, SEAC_B, SEAC_B_HI, SEAC_B_LO, XB_LINE), ser(XB, SNAC_B, SNAC_B_HI, SNAC_B_LO, XB_LINE),
                 ser(XB, IAC_B, IAC_B_HI, IAC_B_LO, XB_LINE)],
         box=(157.1, 500.7, 673.2, 846), xr=[-0.065, 1.571], yr=[-0.176, -0.0294], xd=0.2, xf=".1f", yd=0.02, yf=".2f",
         mult="1e8", mult_xy=(657, 893), cap="(b) SMAC with three marines, sparse rewards", cap_xy=(397, 941),
         leg=(164.3, 509.3, "left", "top")),
    dict(series=[ser(XC2, SEAC_C2, SEAC_C2_HI, SEAC_C2_LO), ser(XC2, SNAC_C2, *sd_band(SNAC_C2, SNAC_C2_SD)),
                 ser(XC2, IAC_C2, *sd_band(IAC_C2, IAC_C2_SD))],
         box=(809.4, 500.7, 1341.5, 846), xr=[-0.124, 3.157], yr=[-0.007, 0.553], xd=0.5, xf=".1f", yd=0.1, yf=".1f",
         mult="1e7", mult_xy=(1326, 893), cap="(c) LBF: (15 × 15), three agents, four food", cap_xy=(1065, 941),
         leg=(817, 510.7, "left", "top")),
    dict(series=[ser(XD2, SEAC_D2, *sd_band(SEAC_D2, SEAC_D2_SD)), ser(XD2, SNAC_D2, *sd_band(SNAC_D2, SNAC_D2_SD)),
                 ser(XD2, IAC_D2, *sd_band(IAC_D2, IAC_D2_SD))],
         box=(1479.9, 500.7, 2012.3, 844), xr=[-0.0675, 1.573], yr=[-2.11, 27.2], xd=0.2, xf=".1f", yd=5, yf="d",
         mult="1e8", mult_xy=(1997, 893), cap="(d) RWARE: (10 × 20), four agents", cap_xy=(1736, 941),
         leg=(2004.5, 838, "right", "bottom")),
]

TICK_FONT = dict(family="DejaVu Sans", size=17, color="#333333")
LABEL_FONT = dict(family="DejaVu Sans", size=19, color="#333333")
LEG_FONT = dict(family="DejaVu Sans", size=17, color="#333333")
CAP_FONT = dict(family="Liberation Serif", size=30, color="#111111")

fig = go.Figure()
layout = dict(width=W, height=H, margin=dict(l=0, r=0, t=0, b=0),
              paper_bgcolor="white", plot_bgcolor="#eaeaf2", showlegend=True)
annotations = []

for i, p in enumerate(PANELS, start=1):
    sfx = "" if i == 1 else str(i)
    xa, ya = "x" + sfx, "y" + sfx
    legname = "legend" + sfx
    x0, top, x1, bottom = p["box"]
    for (xl, mean, xb, hi, lo), col, name in zip(p["series"], [GREEN, ORANGE, BLUE], NAMES):
        fig.add_trace(go.Scatter(x=list(xb) + list(xb)[::-1], y=list(hi) + list(lo)[::-1],
                                 fill="toself", fillcolor=FILLS[col], line=dict(width=0),
                                 mode="lines", hoverinfo="skip", showlegend=False,
                                 xaxis=xa, yaxis=ya))
        fig.add_trace(go.Scatter(x=xl, y=mean, mode="lines", name=name,
                                 line=dict(color=col, width=2.2), legend=legname,
                                 xaxis=xa, yaxis=ya))
    layout["xaxis" + sfx] = dict(
        domain=[x0 / W, x1 / W], range=p["xr"], anchor=ya, dtick=p["xd"], tick0=0,
        tickformat=p["xf"], showgrid=True, gridcolor="white", gridwidth=1.6, zeroline=False,
        showline=False, ticks="outside", ticklen=6, tickcolor="rgba(0,0,0,0)",
        tickfont=TICK_FONT, title=dict(text="Environment Steps", font=LABEL_FONT, standoff=4))
    layout["yaxis" + sfx] = dict(
        domain=[1 - bottom / H, 1 - top / H], range=p["yr"], anchor=xa, dtick=p["yd"], tick0=0,
        tickformat=p["yf"], showgrid=True, gridcolor="white", gridwidth=1.6, zeroline=False,
        showline=False, ticks="outside", ticklen=8, tickcolor="rgba(0,0,0,0)",
        tickfont=TICK_FONT, title=dict(text="Returns", font=LABEL_FONT, standoff=8))
    lx, ly, lxa, lya = p["leg"]
    layout[legname] = dict(x=lx / W, y=1 - ly / H, xanchor=lxa, yanchor=lya,
                           bgcolor="rgba(236,236,244,0.85)", bordercolor="#cfcfd6", borderwidth=1,
                           font=LEG_FONT, itemwidth=45, tracegroupgap=0)
    mx, my = p["mult_xy"]
    annotations.append(dict(text=p["mult"], x=mx / W, y=1 - my / H, xref="paper", yref="paper",
                            showarrow=False, font=TICK_FONT, xanchor="center", yanchor="middle"))
    cx, cy = p["cap_xy"]
    annotations.append(dict(text=p["cap"], x=cx / W, y=1 - cy / H, xref="paper", yref="paper",
                            showarrow=False, font=CAP_FONT, xanchor="center", yanchor="middle"))

layout["annotations"] = annotations
fig.update_layout(**layout)
fig.write_html("out.html")
